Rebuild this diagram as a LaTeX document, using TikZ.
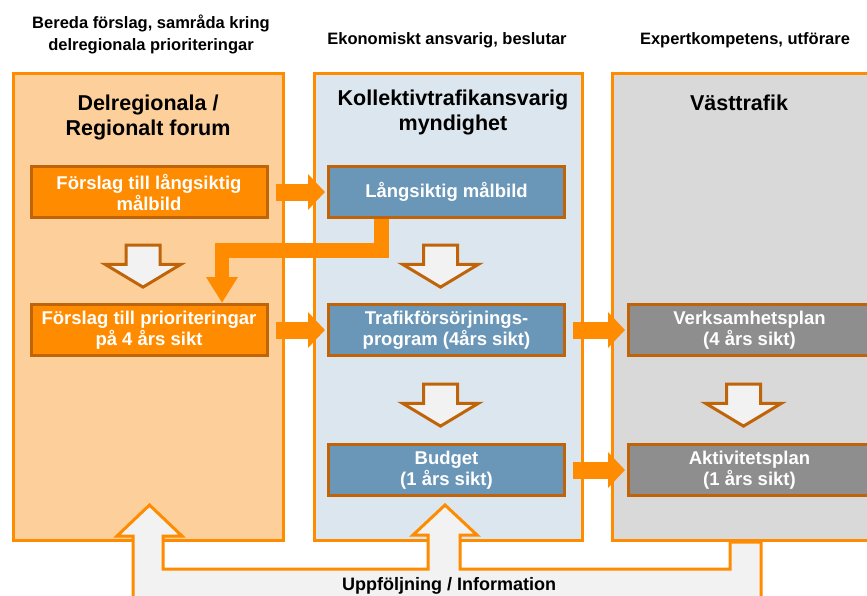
\documentclass[tikz,border=0pt]{standalone}
\usepackage{fontspec}
\setmainfont{Liberation Sans}
\usetikzlibrary{positioning,calc,shapes.arrows,arrows.meta}

\definecolor{orng}{HTML}{FF8C00}
\definecolor{brdr}{HTML}{C0640A}
\definecolor{peach}{HTML}{FDD09B}
\definecolor{paleblue}{HTML}{DCE6EE}
\definecolor{lgray}{HTML}{D9D9D9}
\definecolor{steel}{HTML}{6A96B8}
\definecolor{dgray}{HTML}{8E8E8E}
\definecolor{offwhite}{HTML}{F2F2F2}

\newcommand\hdfont{\bfseries\fontsize{16.5}{22}\selectfont}
\newcommand\ttlfont{\bfseries\fontsize{21.5}{25}\selectfont}
\newcommand\bxfont{\bfseries\fontsize{18.5}{21}\selectfont}

\tikzset{
  panel/.style={draw=orng, line width=3pt, inner sep=0pt, minimum height=467pt},
  box/.style={draw=brdr, line width=3pt, minimum width=236pt, minimum height=51pt,
    inner sep=0pt, text=white, font=\bxfont, align=center},
  farr/.style={draw=orng, line width=17pt, -{Triangle[width=35pt,length=17pt]},
    shorten <=7pt, shorten >=2pt},
  larr/.style={draw=orng, line width=14.5pt, line join=miter,
    -{Triangle[width=30pt,length=26pt]}},
  darr/.style={single arrow, rotate=-90, draw=brdr, fill=offwhite, line width=3pt,
    minimum height=42pt, inner xsep=0pt, inner ysep=15.5pt,
    single arrow head extend=21pt, single arrow tip angle=118},
}

\begin{document}
\begin{tikzpicture}[x=1pt, y=-1pt, node distance=84pt]
\useasboundingbox (0,0) rectangle (867,595);
\clip (0,0) rectangle (867,595);
% Panels
\node[panel, fill=peach, minimum width=270pt] (P1) at (148.5,307) {};
\node[panel, fill=paleblue, minimum width=268pt] (P2) at (448.5,307) {};
\node[panel, fill=lgray, minimum width=287.5pt] (P3) at (756.25,307) {};
% Headers above the panels
\node[font=\hdfont, align=center] (H1) at (151,34) {Bereda förslag, samråda kring\\delregionala prioriteringar};
\node[font=\hdfont] (H2) at (447,40) {Ekonomiskt ansvarig, beslutar};
\node[font=\hdfont] (H3) at (745,40) {Expertkompetens, utförare};
% Panel titles
\node[font=\ttlfont, align=center] (T1) at (148,117) {Delregionala /\\Regionalt forum};
\node[font=\ttlfont, align=center] (T2) at (453,112) {Kollektivtrafikansvarig\\myndighet};
\node[font=\ttlfont] (T3) at (739,103) {Västtrafik};
% Boxes
\node[box, fill=orng] (A1) at (149,192) {Förslag till\ långsiktig\\målbild};
\node[box, fill=orng, below=of A1] (A2) {Förslag till prioriteringar\\på\ 4 års sikt};
\node[box, fill=steel, right=58.5pt of A1] (B1) {Långsiktig målbild};
\node[box, fill=steel, below=of B1] (B2) {Trafikförsörjnings-\\program\ (4års sikt)};
\node[box, fill=steel, below=86pt of B2] (B3) {Budget\\(1 års sikt)};
\node[box, fill=dgray, minimum width=242pt, right=61pt of B2] (C1) {Verksamhetsplan\\(4 års sikt)};
\node[box, fill=dgray, minimum width=242pt, below=86pt of C1] (C2) {Aktivitetsplan\\(1 års sikt)};
% Arrows between the columns
\draw[farr] (A1) -- (B1);
\draw[farr] (A2) -- (B2);
\draw[farr] (B2) -- (C1);
\draw[farr] (B3) -- (C2);
% Arrows within the columns
\node[darr] (D1) at ($(A1.south)!0.5!(A2.north)+(-6,0)$) {};
\node[darr] (D2) at ($(B1.south)!0.5!(B2.north)+(-6,0)$) {};
\node[darr] (D3) at ($(B2.south)!0.5!(B3.north)+(-6,0)$) {};
\node[darr] (D4) at ($(C1.south)!0.5!(C2.north)+(-6,0)$) {};
% Goal back to the forum
\coordinate (L1) at (381.5,250.5);
\coordinate (L2) at (222,250.5);
\draw[larr] (L1 |- B1.south) -- (L1) -- (L2) -- (L2 |- A2.north);
% Feedback
\draw[draw=orng, fill=offwhite, line width=3pt, line join=miter]
  (133,600) -- (133,536) -- (117,536) -- (149.5,505) -- (182,536) -- (163,536)
  -- (163,569) -- (428,569) -- (428,535) -- (413,535) -- (445,505) -- (477,535)
  -- (460,535) -- (460,569) -- (730,569) -- (730,542) -- (761,542) -- (761,600) -- cycle;
\node[font=\bfseries\fontsize{18}{21}\selectfont] (U) at (449,586) {Uppföljning / Information};
\end{tikzpicture}
\end{document}
